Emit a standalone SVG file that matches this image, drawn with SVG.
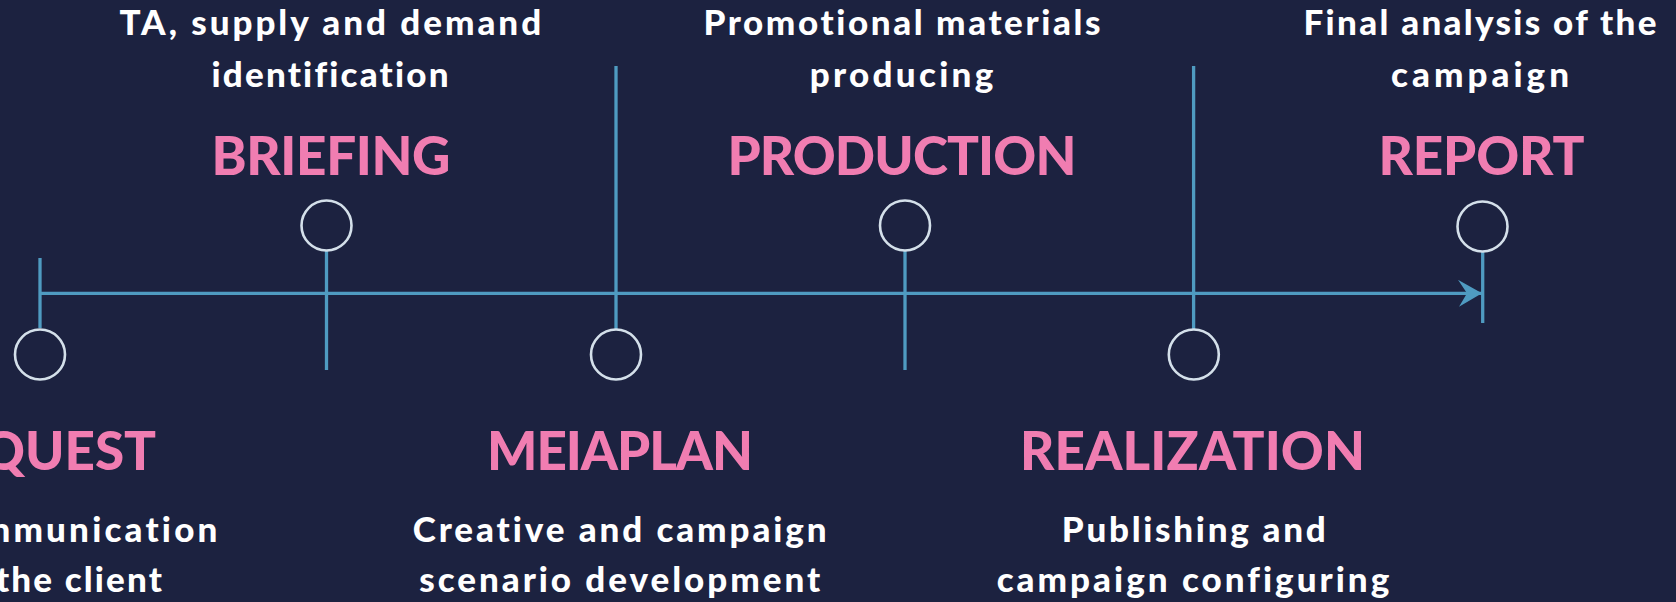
<svg xmlns="http://www.w3.org/2000/svg" width="1676" height="602" viewBox="0 0 1676 602">
  <defs>
    <style>
      .bg { fill: #1c2240; }
      .axis { stroke: #4f9bc1; stroke-width: 3.3; fill: none; stroke-linecap: butt; }
      .dot { fill: none; stroke: #d4e0ea; stroke-width: 2.6; }
      .title { font-family: Lato, "Open Sans", "Liberation Sans", sans-serif; font-weight: 900; font-size: 53px; fill: #f07db1; font-variant-ligatures: none; }
      .desc { font-family: Lato, "Open Sans", "Liberation Sans", sans-serif; font-weight: 900; font-size: 35px; fill: #ffffff; font-variant-ligatures: none; }
      .mid { text-anchor: middle; }
      .end { text-anchor: end; }
    </style>
    <marker id="arrow" markerUnits="userSpaceOnUse" markerWidth="26" markerHeight="28" refX="24" refY="13.5" orient="auto">
      <path d="M0,0 L24,13.5 L1,27 L9,13.5 Z" fill="#4f9bc1"/>
    </marker>
  </defs>

  <rect class="bg" x="0" y="0" width="1676" height="602"/>

  <!-- timeline axis and stems -->
  <g id="connectors">
    <line class="axis" x1="40" y1="293.3" x2="1482" y2="293.3" marker-end="url(#arrow)"/>
    <line class="axis" x1="40" y1="258" x2="40" y2="328"/>
    <line class="axis" x1="326.5" y1="251" x2="326.5" y2="370"/>
    <line class="axis" x1="616" y1="66" x2="616" y2="329"/>
    <line class="axis" x1="905" y1="251" x2="905" y2="370"/>
    <line class="axis" x1="1193.6" y1="66" x2="1193.6" y2="329"/>
    <line class="axis" x1="1482.7" y1="252" x2="1482.7" y2="323"/>
  </g>

  <!-- first stage, partly beyond the left edge -->
  <g id="request">
    <circle class="dot" cx="40" cy="354.5" r="25"/>
    <text class="title end" x="156.1" y="470" textLength="238" lengthAdjust="spacing">REQUEST</text>
    <text class="desc end" x="217.4" y="541.7" textLength="286" lengthAdjust="spacing">Communication</text>
    <text class="desc end" x="161.9" y="592" textLength="166" lengthAdjust="spacing">the client</text>
  </g>

  <g id="briefing">
    <circle class="dot" cx="326.5" cy="225.5" r="25"/>
    <text class="desc mid" x="330.3" y="35" textLength="421.7" lengthAdjust="spacing">TA, supply and demand</text>
    <text class="desc mid" x="330" y="87.3" textLength="237" lengthAdjust="spacing">identification</text>
    <text class="title mid" x="331" y="175" textLength="239" lengthAdjust="spacing">BRIEFING</text>
  </g>

  <g id="meiaplan">
    <circle class="dot" cx="616" cy="354.5" r="25"/>
    <text class="title mid" x="620" y="470" textLength="266" lengthAdjust="spacing">MEIAPLAN</text>
    <text class="desc mid" x="619.7" y="541.7" textLength="414" lengthAdjust="spacing">Creative and campaign</text>
    <text class="desc mid" x="619.7" y="592" textLength="401" lengthAdjust="spacing">scenario development</text>
  </g>

  <g id="production">
    <circle class="dot" cx="905" cy="225.5" r="25"/>
    <text class="desc mid" x="901.9" y="35" textLength="397" lengthAdjust="spacing">Promotional materials</text>
    <text class="desc mid" x="901.5" y="87.3" textLength="183.7" lengthAdjust="spacing">producing</text>
    <text class="title mid" x="901.9" y="175" textLength="349" lengthAdjust="spacing">PRODUCTION</text>
  </g>

  <g id="realization">
    <circle class="dot" cx="1193.8" cy="354.5" r="25"/>
    <text class="title mid" x="1192.5" y="470" textLength="345" lengthAdjust="spacing">REALIZATION</text>
    <text class="desc mid" x="1193.8" y="541.7" textLength="264" lengthAdjust="spacing">Publishing and</text>
    <text class="desc mid" x="1193" y="592" textLength="392.7" lengthAdjust="spacing">campaign configuring</text>
  </g>

  <g id="report">
    <circle class="dot" cx="1482.5" cy="226.5" r="25"/>
    <text class="desc mid" x="1480" y="35" textLength="353" lengthAdjust="spacing">Final analysis of the</text>
    <text class="desc mid" x="1480" y="87.3" textLength="178" lengthAdjust="spacing">campaign</text>
    <text class="title mid" x="1481.4" y="175" textLength="206" lengthAdjust="spacing">REPORT</text>
  </g>
</svg>
